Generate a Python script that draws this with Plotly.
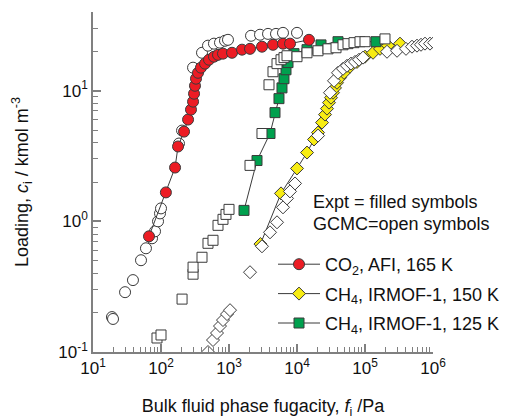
import plotly.graph_objects as go

# CO2 in AFI at 165 K
co2_expt_f = [66.6, 118, 161, 178, 218, 250, 276, 296, 306, 316, 327, 350, 387, 444, 508,
              601, 689, 816, 1107, 1553, 2037, 3055, 4435, 6223, 7887, 15000]
co2_expt_c = [0.768, 1.665, 2.58, 3.74, 4.86, 6.01, 7.16, 8.24, 9.48, 10.9, 12.35, 13.7, 15.0, 16.1, 17.25,
              18.2, 18.8, 19.2, 19.5, 20.6, 20.9, 21.7, 22.45, 22.9, 22.9, 24.5]
co2_gcmc_f = [19.0, 19.7, 29.6, 38.7, 50.8, 60.1, 73.8, 81.7, 90.4, 96.7, 100, 184, 204,
              296, 401, 491, 601, 737, 873, 966, 2108, 2858, 3750, 4910, 6223, 10000]
co2_gcmc_c = [0.185, 0.179, 0.287, 0.355, 0.504, 0.622, 0.742, 0.839, 1.0, 1.15, 1.256, 3.94, 4.95,
              15.0, 19.5, 22.1, 22.9, 23.3, 24.1, 24.5, 26.3, 26.8, 27.2, 27.2, 27.7, 27.7]

# CH4 in IRMOF-1 at 125 K
ch4_125_expt_f = [1662, 2582, 4009, 4747, 5433, 6012, 6437, 6890, 7375, 9036, 14030, 22550, 40100, 145000]
ch4_125_expt_c = [1.213, 2.92, 4.70, 6.79, 8.69, 10.5, 12.35, 14.45, 16.4, 19.2, 20.6, 22.4, 23.7, 23.7]
ch4_125_gcmc_f = [87.3, 100, 204, 296, 296, 401, 491, 582, 689, 816, 903, 1000, 2037, 3055,
                  3873, 4435, 5080, 5817, 6437, 7130, 10000, 14030, 20380, 28580, 37500, 47470,
                  56230, 68900, 84400, 100000, 196800]
ch4_125_gcmc_c = [0.128, 0.135, 0.254, 0.394, 0.446, 0.531, 0.679, 0.716, 0.932, 1.036, 1.13, 1.235, 2.68, 4.70,
                  11.1, 13.96, 16.1, 17.25, 17.9, 18.5, 18.2, 19.5, 20.2, 20.9, 21.3, 22.45,
                  22.9, 23.3, 23.7, 23.7, 24.9]

# CH4 in IRMOF-1 at 150 K
ch4_150_expt_f = [2900, 5817, 10000, 14030, 17780, 20380, 23330, 25820, 27620, 29560, 31620, 33830,
                  36200, 38730, 42850, 49090, 60100, 76200, 100000, 131200, 166300, 218000, 327000]
ch4_150_expt_c = [0.67, 1.636, 2.54, 3.36, 4.23, 4.78, 5.70, 6.56, 7.29, 8.10, 8.84, 9.65,
                  10.5, 11.5, 12.56, 13.7, 15.25, 16.6, 18.2, 19.5, 20.9, 22.1, 22.9]
ch4_150_gcmc_f = [491, 582, 666, 737, 816, 935, 1035, 2037, 3055, 4009, 5080, 6223, 7130, 7887, 9350,
                  20380, 30550, 35000, 40100, 47470, 54330, 62230, 71300, 81700, 93500,
                  210800, 295900, 401000, 491000, 582000, 666000, 763000, 903000, 1035000]
ch4_150_gcmc_c = [0.100, 0.1235, 0.1397, 0.158, 0.1756, 0.195, 0.209, 0.408, 0.644, 0.824, 0.983, 1.28, 1.498, 1.694, 1.95,
                  4.53, 9.65, 11.9, 13.7, 14.7, 15.5, 16.1, 16.6, 17.25, 17.9,
                  19.85, 20.2, 20.9, 21.7, 22.1, 22.45, 22.9, 22.9, 23.3]

# axis ticks
x_major = [1e1, 1e2, 1e3, 1e4, 1e5, 1e6]
x_major_text = ["10<sup>1</sup>", "10<sup>2</sup>", "10<sup>3</sup>",
                "10<sup>4</sup>", "10<sup>5</sup>", "10<sup>6</sup>"]
y_major = [0.1, 1, 10]
y_major_text = ["10<sup>-1</sup>", "10<sup>0</sup>", "10<sup>1</sup>"]
x_minor = [m * d for d in [1e1, 1e2, 1e3, 1e4, 1e5] for m in range(2, 10)]
y_minor = [m * d for d in [0.1, 1] for m in range(2, 10)] + [20, 30, 40]

RED = "#ec1c24"
YELLOW = "#f7ec13"
GREEN = "#00a04e"
EDGE = "#3a3a3a"
LINE = "#3a3a3a"
AXIS = "#808080"
FONT = "Arial, Liberation Sans, sans-serif"

fig = go.Figure()


def open_trace(xs, ys, symbol, size):
    return go.Scatter(x=xs, y=ys, mode="markers", showlegend=False,
                      marker=dict(symbol=symbol, size=size, color="white",
                                  line=dict(color=EDGE, width=1)))


def expt_trace(xs, ys, symbol, size, color, name, rank):
    return go.Scatter(x=xs, y=ys, mode="lines+markers", name=name, legendrank=rank,
                      legendgroup="g%d" % rank,
                      line=dict(color=LINE, width=1),
                      marker=dict(symbol=symbol, size=size, color=color,
                                  line=dict(color=EDGE, width=1)))


fig.add_trace(expt_trace(ch4_150_expt_f, ch4_150_expt_c, "diamond", 10, YELLOW,
                         "CH<sub>4</sub>, IRMOF-1, 150 K", 2))
fig.add_trace(open_trace(ch4_150_gcmc_f, ch4_150_gcmc_c, "diamond", 10))
fig.add_trace(expt_trace(ch4_125_expt_f, ch4_125_expt_c, "square", 10, GREEN,
                         "CH<sub>4</sub>, IRMOF-1, 125 K", 3))
fig.add_trace(open_trace(ch4_125_gcmc_f, ch4_125_gcmc_c, "square", 10))
fig.add_trace(open_trace(co2_gcmc_f, co2_gcmc_c, "circle", 11))
fig.add_trace(expt_trace(co2_expt_f, co2_expt_c, "circle", 11, RED,
                         "CO<sub>2</sub>, AFI, 165 K", 1))

axis_common = dict(
    type="log", showgrid=False, zeroline=False, showline=True, linecolor=AXIS, linewidth=1.5,
    ticks="inside", ticklen=8, tickwidth=1.5, tickcolor=AXIS, mirror=False,
    tickmode="array", tickfont=dict(family=FONT, size=17, color="#111"),
    minor=dict(tickmode="array", ticks="inside", ticklen=5, tickwidth=1.2, tickcolor=AXIS, showgrid=False),
)

fig.update_xaxes(**axis_common)
fig.update_xaxes(range=[1, 6], tickvals=x_major, ticktext=x_major_text,
                 minor_tickvals=x_minor,
                 title=dict(text="Bulk fluid phase fugacity, <i>f</i><sub>i</sub> /Pa",
                            font=dict(family=FONT, size=18, color="#111"), standoff=22))
fig.update_yaxes(**axis_common)
fig.update_yaxes(range=[-1, 1.60206], tickvals=y_major, ticktext=y_major_text,
                 minor_tickvals=y_minor,
                 title=dict(text="Loading, <i>c</i><sub>i</sub> / kmol m<sup>-3</sup>",
                            font=dict(family=FONT, size=18, color="#111"), standoff=25))

fig.add_annotation(text="Expt = filled symbols", xref="paper", yref="paper",
                   x=(395 - 93) / 340, y=(352 - 202) / 340, showarrow=False,
                   xanchor="center", yanchor="middle",
                   font=dict(family=FONT, size=18, color="#111"))
fig.add_annotation(text="GCMC=open symbols", xref="paper", yref="paper",
                   x=(401 - 93) / 340, y=(352 - 224) / 340, showarrow=False,
                   xanchor="center", yanchor="middle",
                   font=dict(family=FONT, size=18, color="#111"))

fig.update_layout(
    width=505, height=420,
    margin=dict(l=93, r=72, t=12, b=68, autoexpand=False),
    paper_bgcolor="white", plot_bgcolor="white",
    font=dict(family=FONT, size=18, color="#111"),
    showlegend=True,
    legend=dict(x=(273 - 93) / 340, y=(352 - 246) / 340, xanchor="left", yanchor="top",
                bgcolor="rgba(0,0,0,0)", borderwidth=0, traceorder="grouped", tracegroupgap=3,
                font=dict(family=FONT, size=18, color="#111"), itemwidth=42),
)

fig.write_html("out.html")
